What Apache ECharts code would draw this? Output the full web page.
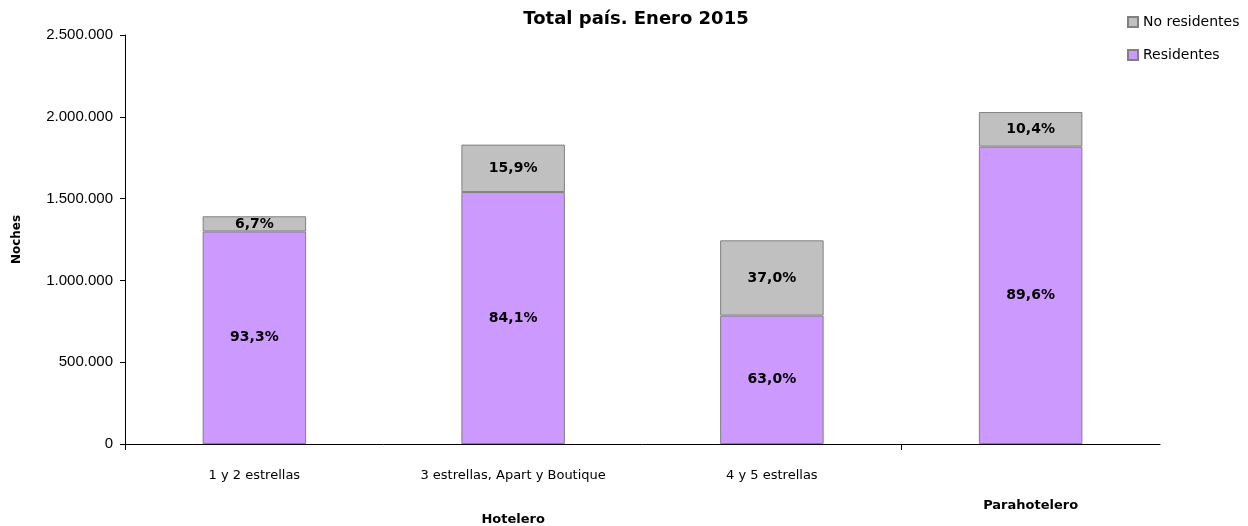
<!DOCTYPE html>
<html lang="es">
<head>
    <meta charset="UTF-8">
    <title>Total país. Enero 2015</title>
    <script src="https://cdn.jsdelivr.net/npm/echarts@6/dist/echarts.min.js"></script>
</head>
<body style="margin:0">
<div id="main" style="width: 1248px;height:526px;"></div>
<script type="text/javascript">
    // datos
    var categorias = ['1 y 2 estrellas', '3 estrellas, Apart y Boutique', '4 y 5 estrellas', ''];
    var grupos = ['Hotelero', 'Parahotelero'];
    var residentes = [1299000, 1540000, 785000, 1818000];
    var noResidentes = [93000, 290000, 460000, 211000];
    var pctResidentes = ['93,3%', '84,1%', '63,0%', '89,6%'];
    var pctNoResidentes = ['6,7%', '15,9%', '37,0%', '10,4%'];

    var myChart = echarts.init(document.getElementById('main'));

    function miles(v) {
        return String(v).replace(/\B(?=(\d{3})+(?!\d))/g, '.');
    }

    var etiqueta = {
        show: true,
        position: 'inside',
        color: '#000',
        fontWeight: 'bold',
        fontSize: 14,
        fontFamily: 'DejaVu Sans'
    };

    var option = {
        backgroundColor: '#fff',
        textStyle: { fontFamily: 'DejaVu Sans' },
        title: {
            text: 'Total país. Enero 2015',
            left: 631,
            textAlign: 'center',
            top: 5,
            textStyle: { fontSize: 18, fontWeight: 'bold', color: '#000', fontFamily: 'DejaVu Sans' }
        },
        legend: {
            orient: 'vertical',
            left: 1122,
            top: 10,
            icon: 'rect',
            itemWidth: 10,
            itemHeight: 10,
            itemGap: 19,
            data: ['No residentes', 'Residentes'],
            textStyle: { fontSize: 14, color: '#000', fontFamily: 'DejaVu Sans' }
        },
        grid: { left: 125, right: 88, top: 35, bottom: 81 },
        xAxis: [{
            type: 'category',
            data: categorias,
            axisLine: { lineStyle: { color: '#000' } },
            axisTick: { show: false },
            axisLabel: { color: '#000', fontSize: 13, margin: 25 }
        }, {
            type: 'value',
            min: 0,
            max: 4,
            position: 'bottom',
            axisLine: { show: false },
            splitLine: { show: false },
            axisTick: { show: true, customValues: [0, 3], length: 6, lineStyle: { color: '#000' } },
            axisLabel: {
                customValues: [1.5, 3.5],
                formatter: function (v) {
                    return v < 3 ? '{h|' + grupos[0] + '}' : '{p|' + grupos[1] + '}';
                },
                rich: {
                    h: { fontSize: 13, fontWeight: 'bold', color: '#000', padding: [61, 0, 0, 0] },
                    p: { fontSize: 13, fontWeight: 'bold', color: '#000', padding: [47, 0, 0, 0] }
                }
            }
        }],
        yAxis: {
            type: 'value',
            min: 0,
            max: 2500000,
            interval: 500000,
            name: 'Noches',
            nameLocation: 'middle',
            nameGap: 102,
            nameTextStyle: { fontWeight: 'bold', fontSize: 12, color: '#000' },
            axisLine: { show: true, lineStyle: { color: '#000' } },
            axisTick: { show: true, length: 5, lineStyle: { color: '#000' } },
            splitLine: { show: false },
            axisLabel: {
                color: '#000',
                fontSize: 15,
                fontFamily: 'Liberation Sans',
                margin: 12,
                formatter: miles
            }
        },
        series: [{
            name: 'Residentes',
            type: 'bar',
            stack: 'total',
            barWidth: '40%',
            data: residentes,
            itemStyle: { color: '#CC99FF', borderColor: '#808080', borderWidth: 1 },
            label: Object.assign({}, etiqueta, {
                formatter: function (p) { return pctResidentes[p.dataIndex]; }
            })
        }, {
            name: 'No residentes',
            type: 'bar',
            stack: 'total',
            barWidth: '40%',
            data: noResidentes,
            itemStyle: { color: '#C0C0C0', borderColor: '#808080', borderWidth: 1 },
            label: Object.assign({}, etiqueta, {
                formatter: function (p) { return pctNoResidentes[p.dataIndex]; }
            })
        }]
    };

    myChart.setOption(option);
</script>
</body>
</html>
